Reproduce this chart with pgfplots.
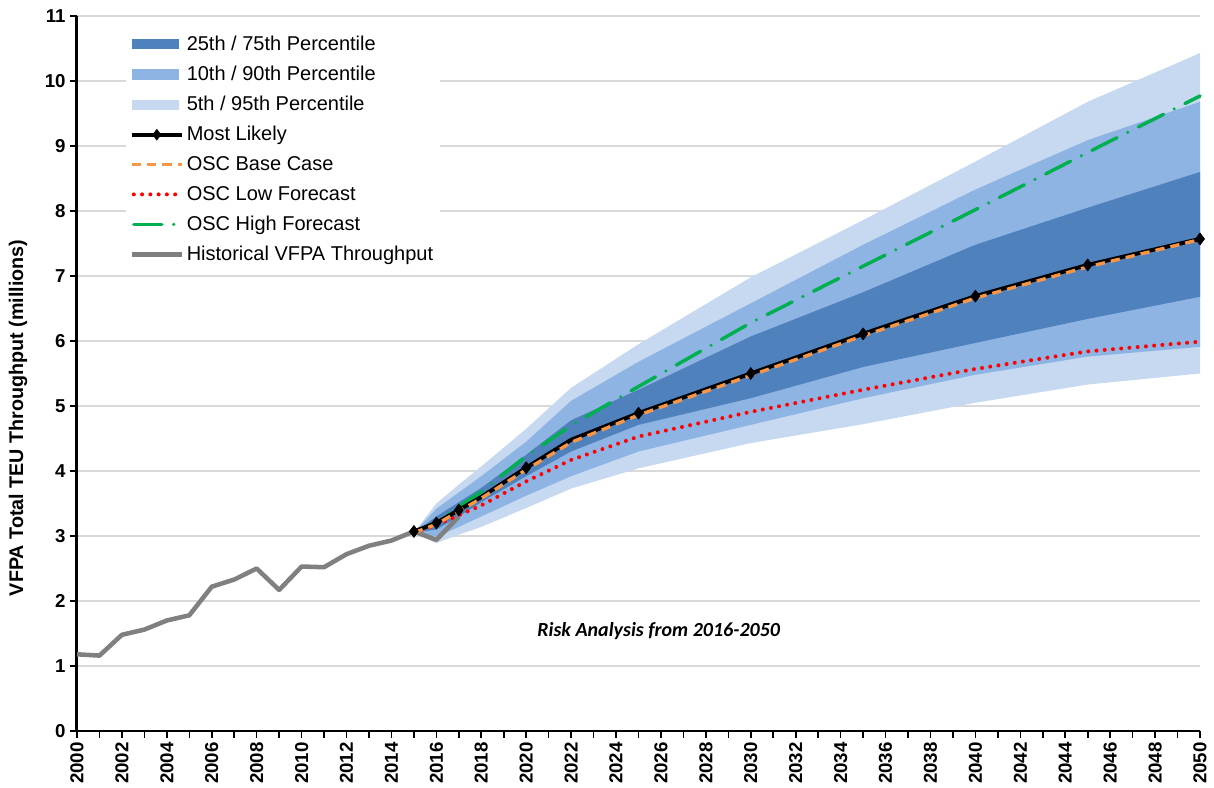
\documentclass[border=0pt]{standalone}
\usepackage{pgfplots}
\pgfplotsset{compat=1.18}
\usepackage{pgfplotstable}
\usepgfplotslibrary{fillbetween}
\usepackage{fontspec}
\setmainfont{Liberation Sans}
\newfontfamily\carlito{Carlito}
\definecolor{bandA}{HTML}{4F81BD}
\definecolor{bandB}{HTML}{8EB4E3}
\definecolor{bandC}{HTML}{C6D9F1}
\definecolor{oscbase}{HTML}{F79646}
\definecolor{osclow}{HTML}{FF0000}
\definecolor{oschigh}{HTML}{00B050}
\definecolor{histgray}{HTML}{808080}
\definecolor{gridc}{HTML}{D9D9D9}

\pgfplotsset{
  markleg/.style={legend image code/.code={\draw[mark repeat=2,mark phase=2,##1] plot coordinates {(0pt,0pt) (18.75pt,0pt) (37.5pt,0pt)};}},
  lineleg/.style={legend image code/.code={\draw[##1] (0pt,0pt) -- (37.5pt,0pt);}},
  dotleg/.style={legend image code/.code={\draw[##1] (1.5pt,0pt) -- (37.5pt,0pt);}},
  bandleg/.style={legend image code/.code={\fill[##1] (0pt,-3.4pt) rectangle (35pt,3.4pt);}},
}

\pgfplotstableread{
year p5 p10 p25 p75 p90 p95
2015 3.05 3.05 3.05 3.05 3.05 3.05
2016 2.89 2.99 3.10 3.30 3.42 3.50
2017 3.02 3.14 3.30 3.52 3.67 3.79
2018 3.14 3.30 3.52 3.74 3.92 4.07
2020 3.43 3.62 3.92 4.25 4.45 4.65
2022 3.73 3.92 4.30 4.78 5.08 5.28
2025 4.04 4.30 4.71 5.25 5.68 5.95
2030 4.43 4.71 5.12 6.07 6.58 6.98
2035 4.72 5.12 5.60 6.75 7.48 7.86
2040 5.05 5.48 5.97 7.48 8.33 8.76
2045 5.33 5.76 6.34 8.05 9.09 9.68
2050 5.50 5.91 6.68 8.60 9.68 10.43
}\bands

\pgfplotstableread{
year ml base low high
2015 3.07 3.05 3.05 3.05
2016 3.20 3.18 3.17 3.22
2017 3.40 3.38 3.32 3.45
2018 3.60 3.58 3.47 3.68
2020 4.05 4.02 3.84 4.23
2022 4.48 4.44 4.17 4.70
2025 4.89 4.86 4.53 5.30
2030 5.50 5.47 4.91 6.28
2035 6.11 6.08 5.25 7.15
2040 6.69 6.66 5.57 8.02
2045 7.17 7.14 5.84 8.90
2050 7.57 7.56 5.99 9.77
}\fcdata

\pgfplotstableread{
year val
2000 1.18
2001 1.16
2002 1.48
2003 1.56
2004 1.70
2005 1.78
2006 2.22
2007 2.33
2008 2.50
2009 2.17
2010 2.53
2011 2.52
2012 2.72
2013 2.85
2014 2.93
2015 3.07
2016 2.94
2017 3.30
}\histdata

\begin{document}
\begin{tikzpicture}
\begin{axis}[
  width=842.25pt, height=536.25pt, scale only axis,
  xmin=2000, xmax=2050, ymin=0, ymax=11,
  axis x line*=bottom, axis y line*=left,
  x axis line style={line width=1.5pt},
  y axis line style={line width=2.25pt},
  xtick={2000,2002,...,2050}, minor xtick={2001,2003,...,2049},
  ytick={0,1,...,11},
  tick align=outside, major tick length=5pt, minor tick length=5pt,
  every tick/.style={black, line width=1.2pt},
  ymajorgrids, grid style={gridc, line width=1.2pt},
  /pgf/number format/assume math mode=true,
  /pgf/number format/1000 sep={},
  xticklabel style={rotate=90, anchor=east, font=\fontsize{14}{14}\selectfont\bfseries},
  yticklabel style={font=\fontsize{14}{14}\selectfont\bfseries},
  ylabel={VFPA Total TEU Throughput (millions)},
  ylabel style={font=\fontsize{14.8}{15}\selectfont\bfseries, at={(axis description cs:-0.0525,0.438)}, anchor=center},
  legend cell align=left,
  legend style={at={(rel axis cs:0.043,0.982)}, anchor=north west, draw=none, fill=white,
    font=\fontsize{15}{15}\selectfont, row sep=6.3pt, inner sep=3pt},
  clip=false,
]
% legend entries
\addlegendimage{bandleg, bandA}
\addlegendentry{25th / 75th Percentile}
\addlegendimage{bandleg, bandB}
\addlegendentry{10th / 90th Percentile}
\addlegendimage{bandleg, bandC}
\addlegendentry{5th / 95th Percentile}
\addlegendimage{markleg, black, line width=3pt, mark=diamond*, mark size=4pt, mark options={solid,line width=0.5pt}}
\addlegendentry{Most Likely}
\addlegendimage{lineleg, oscbase, line width=2.5pt, dash pattern=on 7pt off 4.5pt}
\addlegendentry{OSC Base Case}
\addlegendimage{dotleg, osclow, line width=3pt, line cap=round, dash pattern=on 0pt off 6.2pt}
\addlegendentry{OSC Low Forecast}
\addlegendimage{dotleg, oschigh, line width=2.6pt, line cap=round, dash pattern=on 21pt off 9pt on 0pt off 9pt}
\addlegendentry{OSC High Forecast}
\addlegendimage{lineleg, histgray, line width=3.4pt}
\addlegendentry{Historical VFPA Throughput}

% bands
\addplot[name path=p95, draw=none, forget plot] table[x=year,y=p95]{\bands};
\addplot[name path=p5, draw=none, forget plot] table[x=year,y=p5]{\bands};
\addplot[name path=p90, draw=none, forget plot] table[x=year,y=p90]{\bands};
\addplot[name path=p10, draw=none, forget plot] table[x=year,y=p10]{\bands};
\addplot[name path=p75, draw=none, forget plot] table[x=year,y=p75]{\bands};
\addplot[name path=p25, draw=none, forget plot] table[x=year,y=p25]{\bands};
\addplot[fill=bandC, draw=none, forget plot] fill between[of=p95 and p5];
\addplot[fill=bandB, draw=none, forget plot] fill between[of=p90 and p10];
\addplot[fill=bandA, draw=none, forget plot] fill between[of=p75 and p25];

% historical
\addplot[histgray, line width=3.4pt, line join=round, forget plot] table[x=year,y=val]{\histdata};
% low
\addplot[osclow, line width=3pt, line cap=round, dash pattern=on 0pt off 6.2pt, forget plot] table[x=year,y=low]{\fcdata};
% high
\addplot[oschigh, line width=2.6pt, line cap=round, dash pattern=on 21pt off 9pt on 0pt off 9pt, forget plot] table[x=year,y=high]{\fcdata};
% most likely
\addplot[black, line width=3pt, line join=round, mark=diamond*, mark size=4.5pt, mark options={solid,line width=0.5pt},
  mark indices={1,2,3,5,7,8,9,10,11,12}, forget plot] table[x=year,y=ml]{\fcdata};
% base
\addplot[oscbase, line width=2.5pt, dash pattern=on 7pt off 4.5pt, forget plot] table[x=year,y=base]{\fcdata};

\node[font=\carlito\fontsize{15}{15}\selectfont\bfseries\itshape] at (axis cs:2025.9,1.54) {Risk Analysis from 2016-2050};
\end{axis}
\pgfresetboundingbox
\path[use as bounding box] (-57.75pt,-42.75pt) rectangle (852.75pt,548.25pt);
\end{tikzpicture}
\end{document}
